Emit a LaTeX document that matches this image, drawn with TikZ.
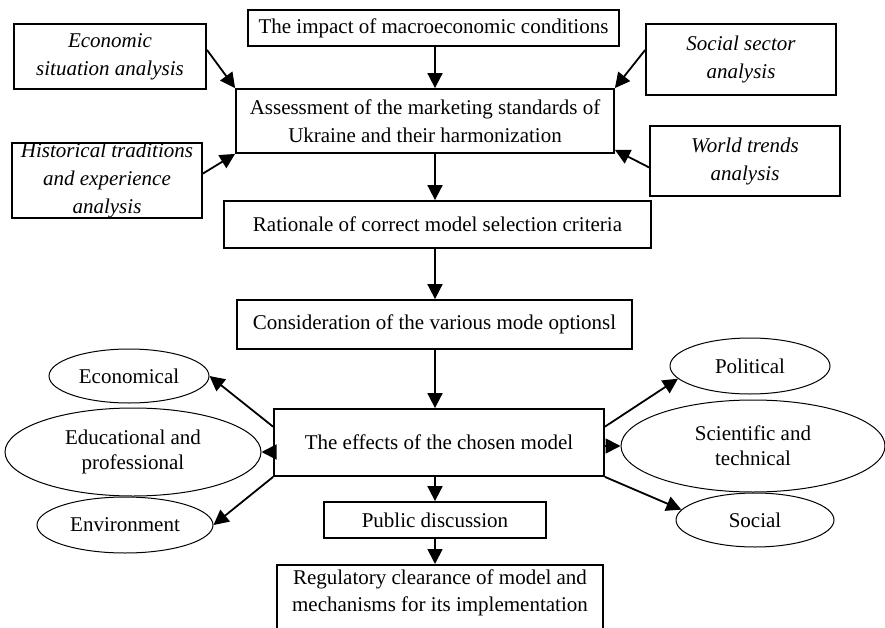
\documentclass[tikz,border=0pt]{standalone}
\usepackage{fontspec}
\setmainfont{Liberation Serif}
\usetikzlibrary{arrows.meta,shapes.geometric,calc}
\begin{document}
\begin{tikzpicture}[x=1pt,y=-1pt,
  every node/.style={font=\fontsize{21}{27}\selectfont},
  box/.style={draw,line width=1.8pt,rectangle,inner sep=0pt,align=center},
  ibox/.style={box,font=\fontsize{21}{28}\selectfont\itshape},
  oval/.style={draw,line width=1pt,ellipse,inner sep=0pt,align=center,font=\fontsize{21}{25}\selectfont},
  arr/.style={line width=1.8pt,-{Triangle[length=15pt,width=15pt]}}]
\useasboundingbox (0,0) rectangle (885,628);
% boxes
\node[box,minimum width=371pt,minimum height=36pt] (top) at (433.5,28) {The impact of macroeconomic conditions};
\node[ibox,minimum width=192pt,minimum height=65pt] (econ) at (110,56.5) {Economic\\situation analysis};
\node[ibox,minimum width=190pt,minimum height=71pt] (soc) at (741,59.5) {Social sector\\analysis};
\node[box,minimum width=378pt,minimum height=64pt,font=\fontsize{21}{28}\selectfont] (assess) at (425,121) {Assessment of the marketing standards of\\Ukraine and their harmonization};
\node[ibox,minimum width=190pt,minimum height=75pt] (hist) at (107,180.5) {Historical traditions\\and experience\\analysis};
\node[ibox,minimum width=190pt,minimum height=70pt] (world) at (745,161) {World trends\\analysis};
\node[box,minimum width=427pt,minimum height=47pt] (rat) at (437.5,224.5) {Rationale of correct model selection criteria};
\node[box,minimum width=395pt,minimum height=49pt] (cons) at (434.5,324.5) {Consideration of the various mode optionsl};
\node[box,minimum width=330pt,minimum height=67pt] (eff) at (439,442.5) {The effects of the chosen model};
\node[box,minimum width=222pt,minimum height=36pt] (pub) at (435,520) {Public discussion};
\node[box,minimum width=326pt,minimum height=70pt,anchor=north] (reg) at (440,564) {};
\node[align=center] (regtext) at (440,593) {Regulatory clearance of model and\\mechanisms for its implementation};
% ellipses
\node[oval,minimum width=160pt,minimum height=54pt] (ecl) at (129,376) {Economical};
\node[oval,minimum width=256pt,minimum height=88pt] (edu) at (133,452) {Educational and\\professional};
\node[oval,minimum width=176pt,minimum height=56pt] (env) at (125,525) {Environment};
\node[oval,minimum width=160pt,minimum height=56pt] (pol) at (750,366) {Political};
\node[oval,minimum width=264pt,minimum height=92pt] (sci) at (753,446) {Scientific and\\technical};
\node[oval,minimum width=158pt,minimum height=54pt] (scl) at (755,520) {Social};
% axis
\coordinate (ax) at (435,0);
% arrows
\draw[arr] (top.south -| ax) -- (assess.north -| ax);
\draw[arr] (assess.south -| ax) -- (rat.north -| ax);
\draw[arr] (rat.south -| ax) -- (cons.north -| ax);
\draw[arr] (cons.south -| ax) -- (eff.north -| ax);
\draw[arr] (eff.south -| ax) -- (pub.north -| ax);
\draw[arr] (pub.south -| ax) -- (reg.north -| ax);
\draw[arr] ($(econ.north east)!0.4!(econ.south east)$) -- (assess.north west);
\draw[arr] ($(hist.north east)!0.41!(hist.south east)$) -- (assess.south west);
\draw[arr] ($(soc.north west)!0.37!(soc.south west)$) -- (assess.north east);
\draw[arr] ($(world.north west)!0.59!(world.south west)$) -- ($(assess.south east)+(0,-4)$);
\draw[arr] ($(eff.north west)!0.27!(eff.south west)$) -- (ecl.east);
\draw[arr] (eff.west |- edu.east) -- (edu.east);
\draw[arr] (eff.south west) -- (env.east);
\draw[arr] ($(eff.north east)!0.27!(eff.south east)$) -- (pol.190);
\draw[arr] (eff.east |- sci.west) -- (sci.west);
\draw[arr] (eff.south east) -- (scl.172);
\end{tikzpicture}
\end{document}
